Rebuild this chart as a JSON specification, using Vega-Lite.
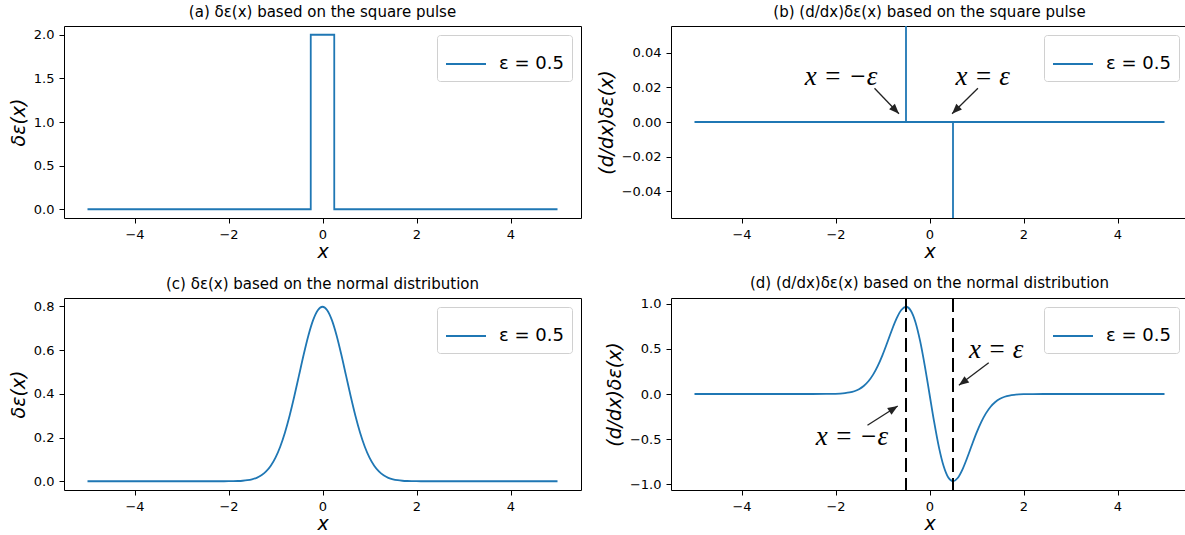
{
  "$schema": "https://vega.github.io/schema/vega-lite/v6.json",
  "background": "white",
  "padding": {"left": 8, "top": 4, "right": 0, "bottom": 0},
  "config": {
    "view": {"stroke": "black", "strokeWidth": 1},
    "axis": {"grid": false, "domain": false, "labelFont": "DejaVu Sans", "labelFontSize": 13, "labelColor": "black", "tickColor": "black", "tickSize": 5, "tickWidth": 1, "labelPadding": 5, "titleFont": "DejaVu Sans", "titleFontSize": 19, "titleFontWeight": "normal", "titleColor": "black", "titleFontStyle": "italic"},
    "axisX": {"titlePadding": 1},
    "axisY": {"titlePadding": 5},
    "title": {"font": "DejaVu Sans", "fontSize": 15, "fontWeight": "normal", "color": "black", "offset": 6, "anchor": "middle"},
    "legend": {"orient": "top-right", "offset": 9, "padding": 8, "strokeColor": "#d0d0d0", "fillColor": "white", "cornerRadius": 3, "symbolType": "stroke", "symbolSize": 1600, "symbolStrokeWidth": 2, "labelFontSize": 18, "labelFont": "DejaVu Sans", "labelColor": "black", "labelOffset": 12}
  },
  "datasets": {
    "pulse": [
      {"i": 1, "x": -5, "y": 0}, {"i": 2, "x": -0.25, "y": 0}, {"i": 3, "x": -0.25, "y": 2},
      {"i": 4, "x": 0.25, "y": 2}, {"i": 5, "x": 0.25, "y": 0}, {"i": 6, "x": 5, "y": 0}
    ],
    "pulseDeriv": [
      {"i": 1, "x": -5, "y": 0}, {"i": 2, "x": -0.5, "y": 0}, {"i": 3, "x": -0.5, "y": 1},
      {"i": 4, "x": -0.5, "y": 0}, {"i": 5, "x": 0.5, "y": 0}, {"i": 6, "x": 0.5, "y": -1},
      {"i": 7, "x": 0.5, "y": 0}, {"i": 8, "x": 5, "y": 0}
    ],
    "gauss": [
      {"x": -5, "p": 0, "d": 0}, {"x": -4, "p": 0, "d": 0}, {"x": -3, "p": 0, "d": 0},
      {"x": -2.5, "p": 0, "d": 0.00003}, {"x": -2.2, "p": 0.00005, "d": 0.00044},
      {"x": -2.0, "p": 0.00027, "d": 0.00216}, {"x": -1.9, "p": 0.00058, "d": 0.00441},
      {"x": -1.8, "p": 0.00122, "d": 0.00878}, {"x": -1.7, "p": 0.00246, "d": 0.01673},
      {"x": -1.6, "p": 0.00477, "d": 0.03053}, {"x": -1.5, "p": 0.00886, "d": 0.05316},
      {"x": -1.4, "p": 0.01583, "d": 0.08865}, {"x": -1.3, "p": 0.02717, "d": 0.14128},
      {"x": -1.2, "p": 0.04479, "d": 0.21499}, {"x": -1.1, "p": 0.07095, "d": 0.31218},
      {"x": -1.0, "p": 0.10798, "d": 0.43192}, {"x": -0.9, "p": 0.1579, "d": 0.56844},
      {"x": -0.8, "p": 0.22184, "d": 0.70989}, {"x": -0.7, "p": 0.29945, "d": 0.83846},
      {"x": -0.6, "p": 0.38837, "d": 0.93209}, {"x": -0.5, "p": 0.48394, "d": 0.96788},
      {"x": -0.4, "p": 0.57938, "d": 0.92701}, {"x": -0.3, "p": 0.66645, "d": 0.79974},
      {"x": -0.2, "p": 0.73654, "d": 0.58923}, {"x": -0.1, "p": 0.78209, "d": 0.31284},
      {"x": 0, "p": 0.79788, "d": 0},
      {"x": 0.1, "p": 0.78209, "d": -0.31284}, {"x": 0.2, "p": 0.73654, "d": -0.58923},
      {"x": 0.3, "p": 0.66645, "d": -0.79974}, {"x": 0.4, "p": 0.57938, "d": -0.92701},
      {"x": 0.5, "p": 0.48394, "d": -0.96788}, {"x": 0.6, "p": 0.38837, "d": -0.93209},
      {"x": 0.7, "p": 0.29945, "d": -0.83846}, {"x": 0.8, "p": 0.22184, "d": -0.70989},
      {"x": 0.9, "p": 0.1579, "d": -0.56844}, {"x": 1.0, "p": 0.10798, "d": -0.43192},
      {"x": 1.1, "p": 0.07095, "d": -0.31218}, {"x": 1.2, "p": 0.04479, "d": -0.21499},
      {"x": 1.3, "p": 0.02717, "d": -0.14128}, {"x": 1.4, "p": 0.01583, "d": -0.08865},
      {"x": 1.5, "p": 0.00886, "d": -0.05316}, {"x": 1.6, "p": 0.00477, "d": -0.03053},
      {"x": 1.7, "p": 0.00246, "d": -0.01673}, {"x": 1.8, "p": 0.00122, "d": -0.00878},
      {"x": 1.9, "p": 0.00058, "d": -0.00441}, {"x": 2.0, "p": 0.00027, "d": -0.00216},
      {"x": 2.2, "p": 0.00005, "d": -0.00044}, {"x": 2.5, "p": 0, "d": -0.00003},
      {"x": 3, "p": 0, "d": 0}, {"x": 4, "p": 0, "d": 0}, {"x": 5, "p": 0, "d": 0}
    ],
    "labelsB": [
      {"x": -1.88, "y": 0.026, "label": "x = −ε"},
      {"x": 1.13, "y": 0.026, "label": "x = ε"}
    ],
    "arrowsB": [
      {"x": -1.17, "y": 0.0195, "x2": -0.65, "y2": 0.0048},
      {"x": 1.03, "y": 0.0195, "x2": 0.48, "y2": 0.0048}
    ],
    "labelsD": [
      {"x": -1.65, "y": -0.477, "label": "x = −ε"},
      {"x": 1.42, "y": 0.488, "label": "x = ε"}
    ],
    "arrowsD": [
      {"x": -1.32, "y": -0.347, "x2": -0.676, "y2": -0.133},
      {"x": 1.26, "y": 0.347, "x2": 0.625, "y2": 0.096}
    ],
    "eps": [{"x": -0.5}, {"x": 0.5}]
  },
  "resolve": {"scale": {"color": "independent"}, "legend": {"color": "independent"}},
  "columns": 2,
  "spacing": {"row": 80, "column": 90},
  "bounds": "flush",
  "concat": [
    {
      "width": 517, "height": 192,
      "title": "(a) δε(x) based on the square pulse",
      "data": {"name": "pulse"},
      "mark": {"type": "line", "strokeWidth": 1.8, "clip": true},
      "encoding": {
        "x": {"field": "x", "type": "quantitative", "scale": {"domain": [-5.5, 5.5], "nice": false, "zero": false}, "axis": {"values": [-4, -2, 0, 2, 4], "format": "d", "title": "x"}},
        "y": {"field": "y", "type": "quantitative", "scale": {"domain": [-0.1, 2.1], "nice": false, "zero": false}, "axis": {"values": [0, 0.5, 1, 1.5, 2], "format": ".1f", "title": "δε(x)"}},
        "order": {"field": "i", "type": "quantitative"},
        "color": {"datum": "ε = 0.5", "type": "nominal", "scale": {"range": ["#1f77b4"]}, "legend": {"title": null}}
      }
    },
    {
      "width": 517, "height": 192,
      "title": "(b) (d/dx)δε(x) based on the square pulse",
      "encoding": {
        "x": {"field": "x", "type": "quantitative", "scale": {"domain": [-5.5, 5.5], "nice": false, "zero": false}, "axis": {"values": [-4, -2, 0, 2, 4], "format": "d", "title": "x"}},
        "y": {"field": "y", "type": "quantitative", "scale": {"domain": [-0.0555, 0.0555], "nice": false, "zero": false}, "axis": {"values": [-0.04, -0.02, 0, 0.02, 0.04], "format": ".2f", "title": "(d/dx)δε(x)"}}
      },
      "layer": [
        {
          "data": {"name": "pulseDeriv"},
          "mark": {"type": "line", "strokeWidth": 1.8, "clip": true},
          "encoding": {
            "order": {"field": "i", "type": "quantitative"},
            "color": {"datum": "ε = 0.5", "type": "nominal", "scale": {"range": ["#1f77b4"]}, "legend": {"title": null}}
          }
        },
        {
          "data": {"name": "labelsB"},
          "mark": {"type": "text", "font": "Liberation Serif", "fontStyle": "italic", "fontSize": 27, "color": "black", "baseline": "middle", "align": "center"},
          "encoding": {"text": {"field": "label"}}
        },
        {
          "data": {"name": "arrowsB"},
          "mark": {"type": "rule", "color": "#222222", "strokeWidth": 1.3},
          "encoding": {"x2": {"field": "x2"}, "y2": {"field": "y2"}}
        },
        {
          "data": {"name": "arrowsB"},
          "transform": [{"filter": "datum.x < 0"}],
          "mark": {"type": "point", "shape": "M0,0L-0.4,1L0.4,1Z", "filled": true, "color": "#222222", "opacity": 1, "size": 400, "angle": 136},
          "encoding": {"x": {"field": "x2", "type": "quantitative"}, "y": {"field": "y2", "type": "quantitative"}}
        },
        {
          "data": {"name": "arrowsB"},
          "transform": [{"filter": "datum.x > 0"}],
          "mark": {"type": "point", "shape": "M0,0L-0.4,1L0.4,1Z", "filled": true, "color": "#222222", "opacity": 1, "size": 400, "angle": 225},
          "encoding": {"x": {"field": "x2", "type": "quantitative"}, "y": {"field": "y2", "type": "quantitative"}}
        }
      ]
    },
    {
      "width": 517, "height": 192,
      "title": "(c) δε(x) based on the normal distribution",
      "data": {"name": "gauss"},
      "mark": {"type": "line", "strokeWidth": 1.8, "interpolate": "monotone", "clip": true},
      "encoding": {
        "x": {"field": "x", "type": "quantitative", "scale": {"domain": [-5.5, 5.5], "nice": false, "zero": false}, "axis": {"values": [-4, -2, 0, 2, 4], "format": "d", "title": "x"}},
        "y": {"field": "p", "type": "quantitative", "scale": {"domain": [-0.0399, 0.8378], "nice": false, "zero": false}, "axis": {"values": [0, 0.2, 0.4, 0.6, 0.8], "format": ".1f", "title": "δε(x)"}},
        "color": {"datum": "ε = 0.5", "type": "nominal", "scale": {"range": ["#1f77b4"]}, "legend": {"title": null}}
      }
    },
    {
      "width": 517, "height": 192,
      "title": "(d) (d/dx)δε(x) based on the normal distribution",
      "encoding": {
        "x": {"field": "x", "type": "quantitative", "scale": {"domain": [-5.5, 5.5], "nice": false, "zero": false}, "axis": {"values": [-4, -2, 0, 2, 4], "format": "d", "title": "x"}},
        "y": {"field": "y", "type": "quantitative", "scale": {"domain": [-1.0648, 1.0648], "nice": false, "zero": false}, "axis": {"values": [-1, -0.5, 0, 0.5, 1], "format": ".1f", "title": "(d/dx)δε(x)"}}
      },
      "layer": [
        {
          "data": {"name": "gauss"},
          "mark": {"type": "line", "strokeWidth": 1.8, "interpolate": "monotone", "clip": true},
          "encoding": {
            "y": {"field": "d", "type": "quantitative"},
            "color": {"datum": "ε = 0.5", "type": "nominal", "scale": {"range": ["#1f77b4"]}, "legend": {"title": null}}
          }
        },
        {
          "data": {"name": "eps"},
          "mark": {"type": "rule", "color": "black", "strokeWidth": 2, "strokeDash": [14, 6]},
          "encoding": {"y": null}
        },
        {
          "data": {"name": "labelsD"},
          "mark": {"type": "text", "font": "Liberation Serif", "fontStyle": "italic", "fontSize": 27, "color": "black", "baseline": "middle", "align": "center"},
          "encoding": {"text": {"field": "label"}}
        },
        {
          "data": {"name": "arrowsD"},
          "mark": {"type": "rule", "color": "#222222", "strokeWidth": 1.3},
          "encoding": {"x2": {"field": "x2"}, "y2": {"field": "y2"}}
        },
        {
          "data": {"name": "arrowsD"},
          "transform": [{"filter": "datum.x < 0"}],
          "mark": {"type": "point", "shape": "M0,0L-0.4,1L0.4,1Z", "filled": true, "color": "#222222", "opacity": 1, "size": 400, "angle": 57},
          "encoding": {"x": {"field": "x2", "type": "quantitative"}, "y": {"field": "y2", "type": "quantitative"}}
        },
        {
          "data": {"name": "arrowsD"},
          "transform": [{"filter": "datum.x > 0"}],
          "mark": {"type": "point", "shape": "M0,0L-0.4,1L0.4,1Z", "filled": true, "color": "#222222", "opacity": 1, "size": 400, "angle": 233},
          "encoding": {"x": {"field": "x2", "type": "quantitative"}, "y": {"field": "y2", "type": "quantitative"}}
        }
      ]
    }
  ]
}
